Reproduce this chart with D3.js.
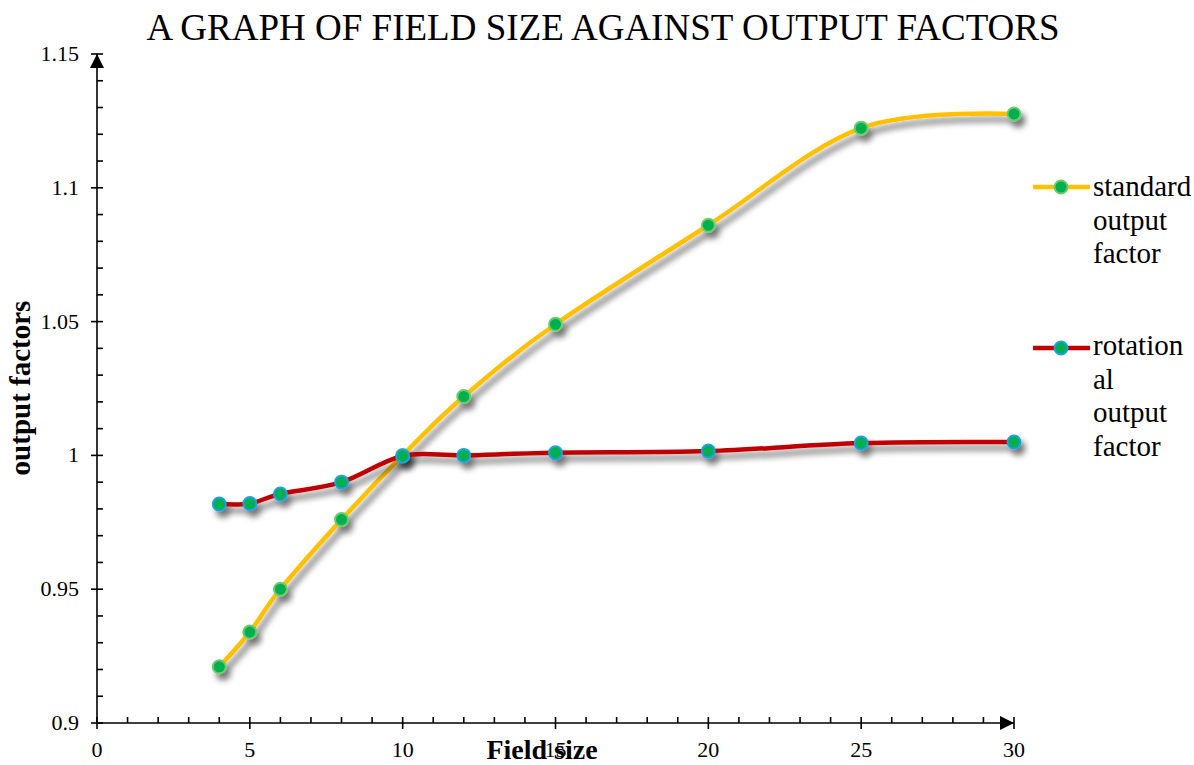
<!DOCTYPE html>
<html><head><meta charset="utf-8">
<script src="https://cdn.jsdelivr.net/npm/d3@7"></script>
<style>body{margin:0;background:#fff}svg{display:block}</style>
</head><body><svg id="c" width="1194" height="765" font-family="'Liberation Serif', 'Times New Roman', serif"></svg>
<script>
const fieldSizes = [4, 5, 6, 8, 10, 12, 15, 20, 25, 30];
const standardOutput = [0.921, 0.934, 0.950, 0.976, 1.000, 1.022, 1.049, 1.086, 1.1223, 1.1276];
const rotationalOutput = [0.9818, 0.982, 0.9856, 0.990, 0.9998, 1.000, 1.001, 1.0016, 1.0046, 1.005];
const xTicks = [0, 5, 10, 15, 20, 25, 30];
const yTicks = [0.9, 0.95, 1.0, 1.05, 1.1, 1.15];
const yTickLabels = ["0.9", "0.95", "1", "1.05", "1.1", "1.15"];
const seriesNames = [["standard", "output", "factor"], ["rotation", "al", "output", "factor"]];

const FONT = "'Liberation Serif', 'Times New Roman', serif";
const svg = d3.select("#c");
const x = d3.scaleLinear().domain([0, 30]).range([97, 1014]);
const y = d3.scaleLinear().domain([0.9, 1.15]).range([723, 54]);

const defs = svg.append("defs");
const f = defs.append("filter").attr("id", "sh").attr("x", "-20%").attr("y", "-20%").attr("width", "150%").attr("height", "150%");
f.append("feGaussianBlur").attr("in", "SourceAlpha").attr("stdDeviation", 3).attr("result", "b");
f.append("feOffset").attr("in", "b").attr("dx", 4).attr("dy", 6).attr("result", "o");
f.append("feComponentTransfer").attr("in", "o").attr("result", "o2")
  .append("feFuncA").attr("type", "linear").attr("slope", 0.55);
const m = f.append("feMerge");
m.append("feMergeNode").attr("in", "o2");
m.append("feMergeNode").attr("in", "SourceGraphic");

// title
svg.append("text").attr("x", 603).attr("y", 40).attr("text-anchor", "middle").attr("font-family", FONT)
  .attr("font-size", 37).attr("fill", "#000").text("A GRAPH OF FIELD SIZE AGAINST OUTPUT FACTORS");

// axes
const ax = svg.append("g").attr("stroke", "#000").attr("stroke-width", 1.6);
ax.append("line").attr("x1", x(0)).attr("x2", x(30)).attr("y1", y(0.9)).attr("y2", y(0.9));
ax.append("line").attr("x1", x(0)).attr("x2", x(0)).attr("y1", y(0.9)).attr("y2", y(1.15));
d3.range(1, 30).filter(v => v % 5 !== 0).forEach(v => {
  ax.append("line").attr("x1", x(v)).attr("x2", x(v)).attr("y1", y(0.9)).attr("y2", y(0.9) - 6);
});
xTicks.forEach(v => {
  ax.append("line").attr("x1", x(v)).attr("x2", x(v)).attr("y1", y(0.9) - 6).attr("y2", y(0.9) + 6);
});
d3.range(1, 25).filter(i => i % 5 !== 0).forEach(i => {
  const v = 0.9 + i * 0.01;
  ax.append("line").attr("x1", x(0)).attr("x2", x(0) + 6).attr("y1", y(v)).attr("y2", y(v));
});
yTicks.forEach(v => {
  ax.append("line").attr("x1", x(0) - 6).attr("x2", x(0) + 6).attr("y1", y(v)).attr("y2", y(v));
});
svg.append("path").attr("d", `M${x(0)},${y(1.15)} l-7,14 l14,0 z`).attr("fill", "#000");
svg.append("path").attr("d", `M${x(30)},${y(0.9)} l-14,-7 l0,14 z`).attr("fill", "#000");

// tick labels
svg.append("g").selectAll("text").data(xTicks).join("text").attr("font-family", FONT)
  .attr("x", d => x(d)).attr("y", 757).attr("text-anchor", "middle").attr("font-size", 22).text(d => d);
svg.append("g").selectAll("text").data(yTicks).join("text").attr("font-family", FONT)
  .attr("x", 79).attr("y", d => y(d) + 7).attr("text-anchor", "end").attr("font-size", 22)
  .text((d, i) => yTickLabels[i]);

// axis titles
svg.append("text").attr("x", 542).attr("y", 759).attr("text-anchor", "middle").attr("font-family", FONT)
  .attr("font-size", 28).attr("font-weight", "bold").text("Field size");
svg.append("text").attr("transform", "translate(30,388) rotate(-90)").attr("text-anchor", "middle").attr("font-family", FONT)
  .attr("font-size", 29).attr("font-weight", "bold").text("output factors");

// series
const line = d3.line().x(d => x(d[0])).y(d => y(d[1])).curve(d3.curveCatmullRom.alpha(0));
const series = [
  {vals: standardOutput, color: "#FFC000", mstroke: "#6CCB6C"},
  {vals: rotationalOutput, color: "#C00000", mstroke: "#1BA1E2"}
];
series.forEach(s => {
  const g = svg.append("g").attr("filter", "url(#sh)");
  const pts = fieldSizes.map((fs, i) => [fs, s.vals[i]]);
  g.append("path").attr("d", line(pts)).attr("fill", "none").attr("stroke", s.color).attr("stroke-width", 4.5);
  g.selectAll("circle").data(pts).join("circle")
    .attr("cx", d => x(d[0])).attr("cy", d => y(d[1])).attr("r", 6.5)
    .attr("fill", "#00B050").attr("stroke", s.mstroke).attr("stroke-width", 2);
});

// legend
const legY = [187, 348];
const legBase = [196, 355];
series.forEach((s, i) => {
  const g = svg.append("g");
  g.append("line").attr("x1", 1033).attr("x2", 1090).attr("y1", legY[i]).attr("y2", legY[i])
    .attr("stroke", s.color).attr("stroke-width", 4.5);
  g.append("circle").attr("cx", 1061).attr("cy", legY[i]).attr("r", 6.5)
    .attr("fill", "#00B050").attr("stroke", s.mstroke).attr("stroke-width", 2);
  seriesNames[i].forEach((t, j) => {
    g.append("text").attr("font-family", FONT).attr("x", 1093).attr("y", legBase[i] + j * 33.5).attr("font-size", 29).text(t);
  });
});
</script></body></html>
